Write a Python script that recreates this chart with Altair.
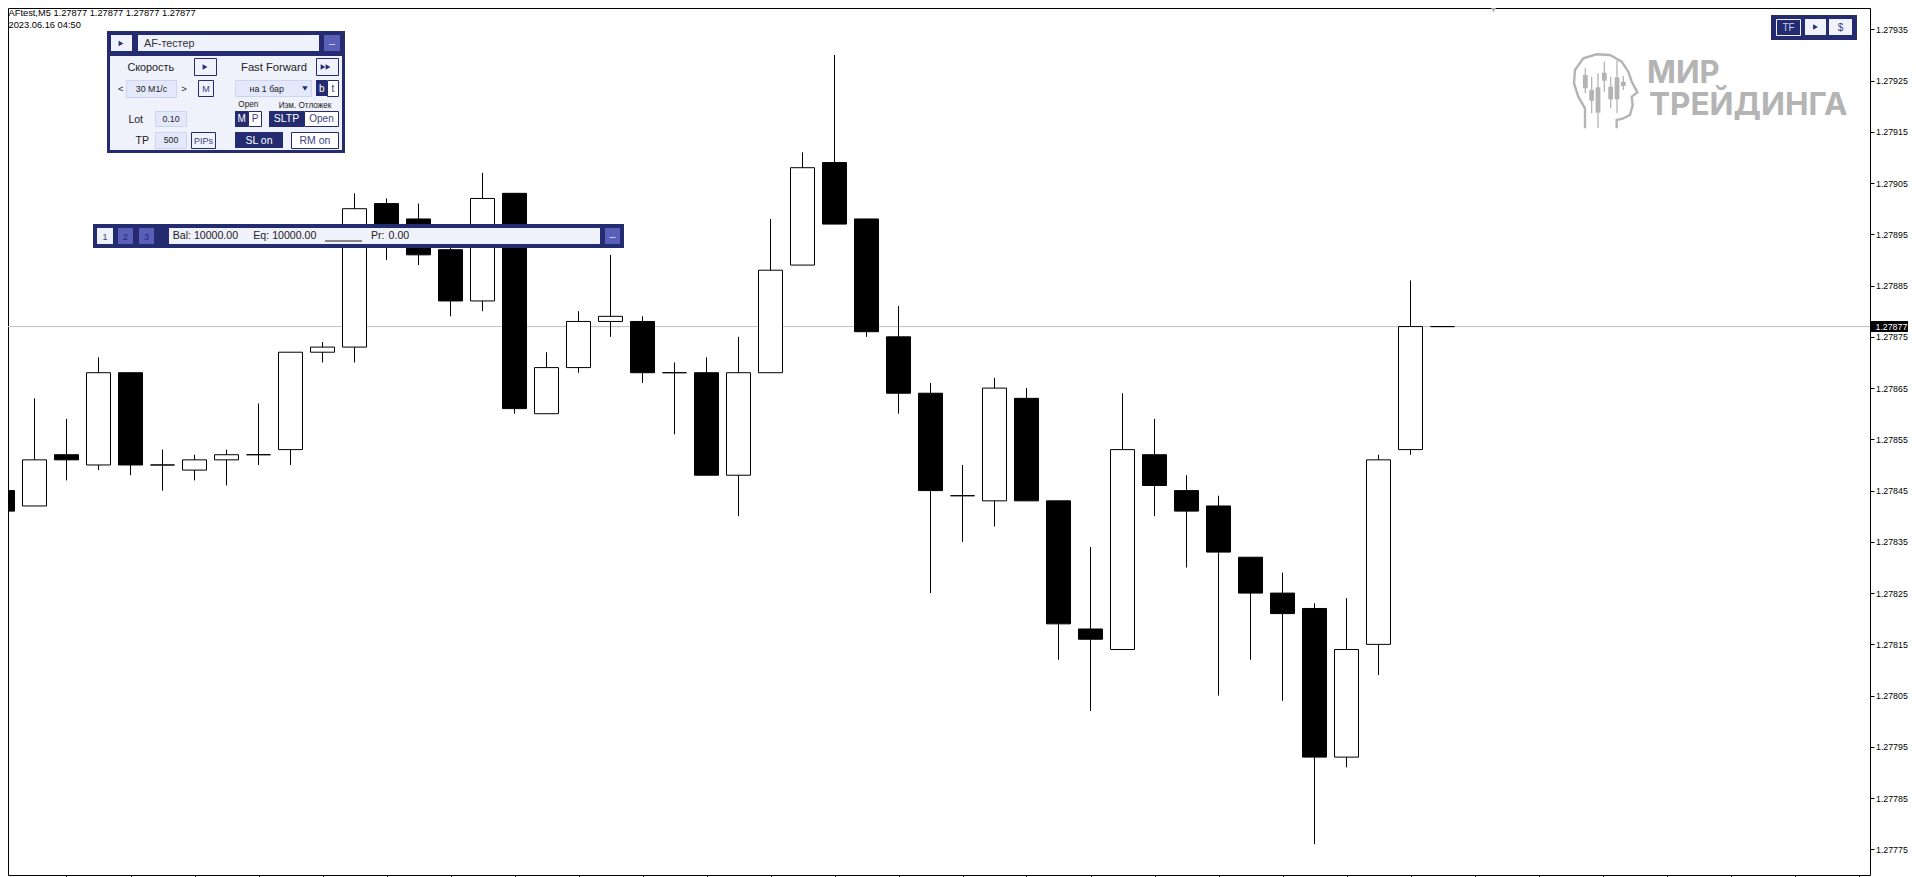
import altair as alt
import pandas as pd

# ---------- chart values ----------
highs = [1.27848,1.27863,1.27859,1.27871,1.27868,1.27853,1.27852,1.27853,1.27862,1.27872,1.27874,1.27903,
         1.27902,1.27901,1.27893,1.27907,1.27903,1.27872,1.27880,1.27891,1.27879,1.27870,1.27871,1.27875,
         1.27898,1.27911,1.27930,1.27898,1.27881,1.27866,1.27850,1.27867,1.27865,1.27843,1.27834,1.27864,
         1.27859,1.27848,1.27844,1.27832,1.27829,1.27823,1.27824,1.27852,1.27886,1.27877]
lows = [1.27840,1.27842,1.27847,1.27849,1.27848,1.27845,1.27847,1.27846,1.27850,1.27850,1.27870,1.27870,
        1.27890,1.27889,1.27879,1.27880,1.27860,1.27860,1.27868,1.27875,1.27866,1.27856,1.27848,1.27840,
        1.27868,1.27889,1.27897,1.27875,1.27860,1.27825,1.27835,1.27838,1.27843,1.27812,1.27802,1.27814,
        1.27840,1.27830,1.27805,1.27812,1.27804,1.27776,1.27791,1.27809,1.27852,1.27877]
opens = [1.27845,1.27842,1.27852,1.27850,1.27868,1.27850,1.27849,1.27851,1.27852,1.27853,1.27872,1.27873,
         1.27901,1.27898,1.27892,1.27882,1.27903,1.27860,1.27869,1.27878,1.27878,1.27868,1.27868,1.27848,
         1.27868,1.27889,1.27909,1.27898,1.27875,1.27864,1.27844,1.27843,1.27863,1.27843,1.27818,1.27814,
         1.27852,1.27845,1.27842,1.27832,1.27825,1.27822,1.27793,1.27815,1.27853,1.27877]
closes = [1.27841,1.27851,1.27851,1.27868,1.27850,1.27850,1.27851,1.27852,1.27852,1.27872,1.27873,1.27900,
          1.27897,1.27891,1.27882,1.27902,1.27861,1.27869,1.27878,1.27879,1.27868,1.27868,1.27848,1.27868,
          1.27888,1.27908,1.27897,1.27876,1.27864,1.27845,1.27844,1.27865,1.27843,1.27819,1.27816,1.27853,
          1.27846,1.27841,1.27833,1.27825,1.27821,1.27793,1.27814,1.27851,1.27877,1.27877]
last_price = 1.27877
price_ticks = [1.27775,1.27785,1.27795,1.27805,1.27815,1.27825,1.27835,1.27845,1.27855,1.27865,
               1.27875,1.27885,1.27895,1.27905,1.27915,1.27925,1.27935]
time_ticks = list(range(0, 60, 2))

OFF = 8
NAVY = "#252B70"; PURPLE = "#5860B8"; LIGHT = "#EFF1FB"; FIELD = "#E3E8FA"; EDGE = "#CDD3F0"; INK = "#222222"; SOFT = "#3C4380"
LOGO = "#B4B4B4"

# ---------- terminal panels (screen furniture, in screen pixels) ----------
rects = [
 # tag
 (1871,321,1912,332,"#000000",None),
 # tester panel
 (107,31,345,153,NAVY,None),(110,56,342,150,LIGHT,None),
 (111,35,132,51,LIGHT,None),(138,35,319,51,LIGHT,None),(324,35,340,51,PURPLE,None),
 (194.5,58.5,216.5,75.5,LIGHT,NAVY),(316.5,58.5,338.5,75.5,LIGHT,NAVY),
 (126.5,80.5,176.5,97.5,FIELD,EDGE),(198.5,80.5,213.5,96.5,LIGHT,NAVY),
 (235.5,80.5,311.5,96.5,FIELD,EDGE),(316,80,327,96,NAVY,None),(327.5,80.5,338.5,96.5,"#FFFFFF",NAVY),
 (155.5,111.5,186.5,126.5,FIELD,EDGE),(155.5,132.5,186.5,148.5,FIELD,EDGE),(191.5,132.5,215.5,148.5,LIGHT,NAVY),
 (235,111,248,127,NAVY,None),(248.5,111.5,261.5,126.5,"#FFFFFF",NAVY),
 (269,111,304,127,NAVY,None),(304.5,111.5,338.5,126.5,"#FFFFFF",NAVY),
 (235,132,283,148,NAVY,None),(291.5,132.5,338.5,148.5,"#FFFFFF",NAVY),
 (331,63,332.5,71,NAVY,None),
 # balance strip
 (93,224,624,248,NAVY,None),(97,228,113,244,LIGHT,None),(118,228,133,244,PURPLE,None),(139,228,154,244,PURPLE,None),
 (169,228,600,244,LIGHT,None),(605,228,620,244,PURPLE,None),(325,240.5,362,241.5,INK,None),
 # top-right strip
 (1771,15,1857,40,NAVY,None),(1776.5,19.5,1800.5,35.5,NAVY,LIGHT),(1805,19,1826,35,LIGHT,None),(1829,19,1852,35,LIGHT,None),
]
left_texts = [
 (8.5,13,"AFtest,M5  1.27877 1.27877 1.27877 1.27877",9.3,"#000000"),
 (8.5,25,"2023.06.16 04:50",9.3,"#000000"),
 (144,43.5,"AF-тестер",10.8,"#333333"),
 (172.7,236,"Bal: 10000.00",10.6,INK),(253.3,236,"Eq: 10000.00",10.6,INK),(371,236,"Pr:",10.6,INK),(388.6,236,"0.00",10.6,INK),
]
center_texts = [
 (150.7,67.5,"Скорость",10.8,INK),(274,67.5,"Fast Forward",11.2,INK),
 (120.7,89,"<",9.5,INK),(184,89,">",9.5,INK),(151.5,88.7,"30 M1/c",8.8,INK),(206,88.7,"M",9,SOFT),
 (266.7,88.5,"на 1 бар",8.8,INK),(321.7,88.5,"b",10,"#FFFFFF"),(333,88.5,"t",10,SOFT),
 (248.3,104.5,"Open",8.2,INK),(305,105.5,"Изм. Отложек",8.2,INK),
 (135.7,119.5,"Lot",10.5,INK),(171,119,"0.10",8.8,INK),(142.3,140.5,"TP",10.5,INK),(171,140,"500",8.8,INK),(203.5,140.5,"PIPs",9,SOFT),
 (241.7,119,"M",10,"#FFFFFF"),(255,119,"P",10,SOFT),(286.5,119,"SLTP",10.5,"#FFFFFF"),(321.5,119,"Open",10,SOFT),
 (259,140.5,"SL on",10.5,"#FFFFFF"),(315,140.5,"RM on",10.5,SOFT),
 (332,44,"–",11,"#DDE0F5"),(612.5,236.5,"–",11,"#DDE0F5"),
 (105,236.5,"1",9,SOFT),(125.5,236.5,"2",9,NAVY),(146.5,236.5,"3",9,NAVY),
 (1788.5,27.5,"TF",10,"#C9CDEE"),(1840.5,27.5,"$",10,SOFT),
]
triangles = [(121,43.5,NAVY),(205,67,NAVY),(323,67,NAVY),(328,67,NAVY),(1815.5,27,NAVY)]
triangles_big = [(305,88.5,NAVY)]

head_x = [75,75,55,42,45,70,110,150,185,205,215,232,215,218,210,190,170,170]
head_y = [265,205,170,130,90,55,43,45,65,95,125,157,170,195,225,235,240,265]
logo_wick_x = [76,95,114,133,152,171,190]
logo_high = [85,110,100,65,110,62,108]
logo_low = [160,220,265,155,205,220,150]
logo_top = [105,150,142,98,140,112,125]
logo_bot = [145,182,218,122,178,178,138]

# ---------- candle chart ----------
X0, X1 = (OFF - 2.5) / 32, (1870 - 2.5) / 32
Y_TOP, Y_BOT = 1.2793916, 1.27770
xs = alt.Scale(domain=[X0, X1], nice=False, zero=False)
ys = alt.Scale(domain=[Y_BOT, Y_TOP], nice=False, zero=False)
x_axis = alt.Axis(values=time_ticks, title=None, labels=False, grid=False, domain=False,
                  tickSize=2, tickColor="#000000", tickWidth=1)
y_axis = alt.Axis(orient="right", values=price_ticks, format=".5f", title=None, grid=False,
                  domain=False, tickSize=4, tickColor="#000000", tickWidth=1,
                  labelFont="Liberation Sans", labelFontSize=8.8, labelColor="#000000", labelPadding=1.5)

df = pd.DataFrame({"i": range(len(highs)), "high": highs, "low": lows, "open": opens, "close": closes})
df["body"] = ["#FFFFFF" if c >= o else "#000000" for o, c in zip(opens, closes)]
df["l"] = df["i"] - 12 / 32
df["r"] = df["i"] + 12 / 32

price_line = alt.Chart(pd.DataFrame({"p": [last_price], "i": [0.2]})).mark_rule(color="#C0C0C0", strokeWidth=1).encode(
    y=alt.Y("p:Q", scale=ys, axis=y_axis))
wicks = alt.Chart(df).mark_rule(color="#000000", strokeWidth=1, clip=True).encode(
    x=alt.X("i:Q", scale=xs, axis=x_axis), y=alt.Y("high:Q", scale=ys, axis=y_axis), y2="low:Q")
bodies = alt.Chart(df).mark_rect(stroke="#000000", strokeWidth=1, clip=True).encode(
    x=alt.X("l:Q", scale=xs, axis=x_axis), x2="r:Q",
    y=alt.Y("open:Q", scale=ys, axis=y_axis), y2="close:Q",
    fill=alt.Fill("body:N", scale=None))
candles = alt.layer(price_line, wicks, bodies)

# ---------- furniture helpers ----------
def px(name):
    return alt.X(name + ":Q", scale=None, axis=None)
def py(name):
    return alt.Y(name + ":Q", scale=None, axis=None)

rdf = pd.DataFrame(rects, columns=["x1", "y1", "x2", "y2", "fill", "edge"])
for c in ["x1", "x2", "y1", "y2"]:
    rdf[c] = rdf[c] - OFF
plain = rdf[rdf.edge.isna()].drop(columns="edge")
framed = rdf[rdf.edge.notna()]
rect_plain = alt.Chart(plain).mark_rect().encode(x=px("x1"), x2="x2:Q", y=py("y1"), y2="y2:Q", fill=alt.Fill("fill:N", scale=None))
rect_framed = alt.Chart(framed).mark_rect(strokeWidth=1).encode(x=px("x1"), x2="x2:Q", y=py("y1"), y2="y2:Q",
    fill=alt.Fill("fill:N", scale=None), stroke=alt.Stroke("edge:N", scale=None))

def text_layer(rows, align, font="Liberation Sans", weight="normal"):
    d = pd.DataFrame(rows, columns=["x", "y", "t", "s", "c"])
    d["x"] -= OFF; d["y"] -= OFF
    return alt.Chart(d).mark_text(align=align, baseline="middle", font=font, fontWeight=weight).encode(
        x=px("x"), y=py("y"), text="t:N", size=alt.Size("s:Q", scale=None), color=alt.Color("c:N", scale=None))

tl = text_layer(left_texts, "left")
tc = text_layer(center_texts, "center")
logo_text = text_layer([(1647, 73.5, "МИР", 31, LOGO), (1649, 105.5, "ТРЕЙДИНГА", 31.5, LOGO)], "left", "Inter", "bold")

tri = pd.DataFrame(triangles, columns=["x", "y", "c"]); tri["x"] -= OFF; tri["y"] -= OFF
tri_l = alt.Chart(tri).mark_point(shape="triangle-right", filled=True, size=30, opacity=1).encode(
    x=px("x"), y=py("y"), color=alt.Color("c:N", scale=None))
trib = pd.DataFrame(triangles_big + [(1493.5, 10, "#B0B0B0")], columns=["x", "y", "c"]); trib["x"] -= OFF; trib["y"] -= OFF
tri_d = alt.Chart(trib).mark_point(shape="triangle-down", filled=True, size=30, opacity=1).encode(
    x=px("x"), y=py("y"), color=alt.Color("c:N", scale=None))

head = pd.DataFrame({"x": [1560 + v / 3 - OFF for v in head_x], "y": [40 + v / 3 - OFF for v in head_y],
                     "o": range(len(head_x))})
head_line = alt.Chart(head).mark_line(color=LOGO, strokeWidth=2.4, interpolate="linear").encode(
    x=px("x"), y=py("y"), order="o:Q")
lw = pd.DataFrame({"x": [1560 + v / 3 - OFF for v in logo_wick_x],
                   "h": [40 + v / 3 - OFF for v in logo_high], "l": [40 + v / 3 - OFF for v in logo_low],
                   "t": [40 + v / 3 - OFF for v in logo_top], "b": [40 + v / 3 - OFF for v in logo_bot]})
logo_w = alt.Chart(lw).mark_rule(color=LOGO, strokeWidth=1.3).encode(x=px("x"), y=py("h"), y2="l:Q")
lw2 = lw.assign(x1=lw.x - 2.4, x2=lw.x + 2.4)
logo_b = alt.Chart(lw2).mark_rect(color=LOGO).encode(x=px("x1"), x2="x2:Q", y=py("t"), y2="b:Q")

tag_text = alt.Chart(pd.DataFrame({"p": [last_price], "t": ["1.27877"]})).mark_text(
    align="left", baseline="middle", font="Liberation Sans", fontSize=8.8, color="#FFFFFF").encode(
    x=alt.value(1875.5 - OFF), y=alt.Y("p:Q", scale=ys, axis=None), text="t:N")

furniture = alt.layer(head_line, logo_w, logo_b, logo_text, rect_plain, rect_framed, tri_l, tri_d, tl, tc)

chart = alt.layer(candles, furniture, tag_text).resolve_scale(x="independent", y="independent").properties(
    width=1862, height=867,
    autosize=alt.AutoSizeParams(type="none"),
    padding={"left": 0, "top": 0, "right": 38, "bottom": 2},
    background="#FFFFFF",
).configure_view(stroke="#000000", strokeWidth=1)

chart.save("out.html", embed_options={"renderer": "svg", "actions": False})
